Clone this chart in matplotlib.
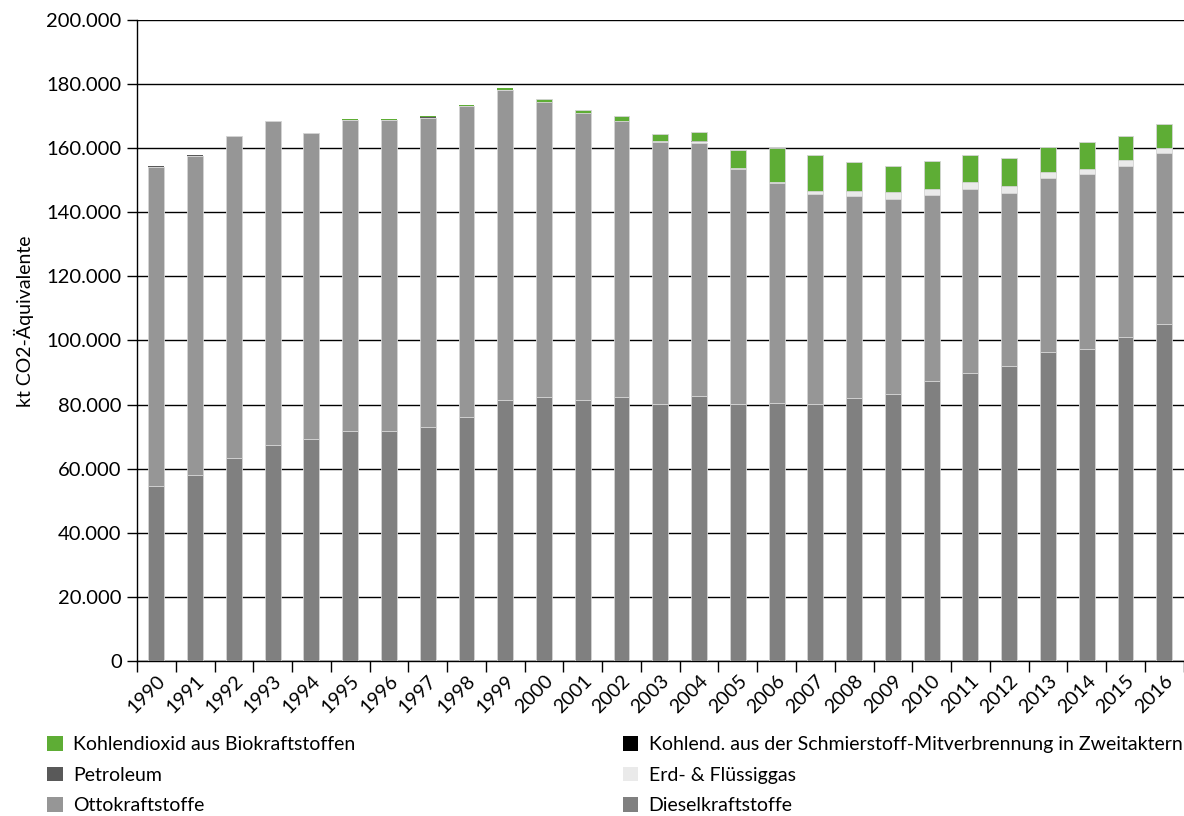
import matplotlib
matplotlib.use("Agg")
import matplotlib.pyplot as plt
from matplotlib.patches import Patch
from matplotlib.ticker import FuncFormatter, MultipleLocator
import numpy as np

plt.rcParams['font.family'] = ['Lato', 'DejaVu Sans']

years = [str(y) for y in range(1990, 2017)]

# Totals per year (kt CO2-Äquivalente, in thousands)
total = [154.4, 157.9, 163.8, 168.5, 164.7, 169.0, 169.0, 170.0, 173.5, 178.8,
         175.3, 171.9, 170.0, 164.4, 165.1, 159.4, 160.0, 157.9, 155.6, 154.4,
         156.0, 157.8, 156.8, 160.4, 161.8, 163.9, 167.6]
diesel = [54.6, 58.0, 63.3, 67.4, 69.3, 71.8, 71.8, 73.0, 76.1, 81.4,
          82.4, 81.4, 82.4, 80.2, 82.7, 80.2, 80.5, 80.2, 82.1, 83.3,
          87.4, 89.9, 92.0, 96.4, 97.3, 101.1, 105.1]
bio = [0.0, 0.0, 0.0, 0.0, 0.0, 0.3, 0.2, 0.4, 0.3, 0.6,
       0.9, 1.0, 1.4, 2.2, 3.0, 5.6, 10.4, 11.2, 9.0, 8.1,
       8.6, 8.3, 8.6, 7.9, 8.2, 7.6, 7.5]
gas = [0.0, 0.0, 0.0, 0.0, 0.0, 0.0, 0.0, 0.0, 0.0, 0.0,
       0.0, 0.0, 0.1, 0.1, 0.3, 0.3, 0.3, 0.8, 1.5, 2.0,
       1.9, 2.1, 2.0, 1.9, 1.7, 1.7, 1.6]
petroleum = [0.4, 0.3, 0.1, 0.05, 0.05, 0.02, 0.02, 0.02, 0.02, 0.02,
             0.02, 0.02, 0.02, 0.02, 0.02, 0.02, 0.02, 0.02, 0.02, 0.02,
             0.02, 0.02, 0.02, 0.02, 0.02, 0.02, 0.02]
zweitakt = [0.02, 0.02, 0.02, 0.02, 0.02, 0.02, 0.02, 0.02, 0.02, 0.02,
            0.02, 0.02, 0.02, 0.02, 0.02, 0.02, 0.02, 0.02, 0.02, 0.02,
            0.02, 0.02, 0.02, 0.02, 0.02, 0.02, 0.02]
otto = [t - d - b - g - p - z for t, d, b, g, p, z in
        zip(total, diesel, bio, gas, petroleum, zweitakt)]

series = [
    ("Dieselkraftstoffe", diesel, "#808080"),
    ("Ottokraftstoffe", otto, "#969696"),
    ("Erd- & Flüssiggas", gas, "#EAEAEA"),
    ("Petroleum", petroleum, "#595959"),
    ("Kohlend. aus der Schmierstoff-Mitverbrennung in Zweitaktern", zweitakt, "#000000"),
    ("Kohlendioxid aus Biokraftstoffen", bio, "#5EAD35"),
]

fig = plt.figure(figsize=(11.84, 8.16), dpi=100)
ax = fig.add_axes([0.1157, 0.19, 0.884, 0.7855])

x = np.arange(len(years))
bottom = np.zeros(len(years))
for name, vals, col in series:
    v = np.array(vals) * 1000
    lw = np.where(v > 600, 0.6, 0.0)
    ax.bar(x, v, width=0.41, bottom=bottom, color=col, edgecolor="#d4d4d4",
           linewidth=lw, zorder=3)
    bottom += v

ax.set_xlim(-0.5, len(years) - 0.5)
ax.set_ylim(0, 200000)
ax.yaxis.set_major_locator(MultipleLocator(20000))
ax.yaxis.set_major_formatter(FuncFormatter(
    lambda v, p: "0" if v == 0 else f"{int(v):,}".replace(",", ".")))
ax.grid(axis="y", color="black", linewidth=1.0, zorder=0)

for s in ("top", "right"):
    ax.spines[s].set_visible(False)
ax.spines["left"].set_linewidth(1.0)
ax.spines["bottom"].set_linewidth(1.0)

ax.set_xticks(x)
ax.set_xticklabels(years, rotation=45, ha="right", rotation_mode="anchor",
                   fontsize=14)
ax.tick_params(axis="x", which="major", length=0, pad=8)
ax.set_xticks(np.arange(-0.5, len(years)), minor=True)
ax.tick_params(axis="x", which="minor", length=8, width=1, direction="out")
ax.tick_params(axis="y", length=7, width=1, labelsize=14.5, pad=4)

ax.set_ylabel("kt CO2-Äquivalente", fontsize=14)
ax.yaxis.set_label_coords(-0.098, 0.53)

# Two legend columns, filled row by row
col_left = [5, 3, 1]
col_right = [4, 2, 0]
for idx, x0 in ((col_left, 0.040), (col_right, 0.526)):
    handles = [Patch(facecolor=series[i][2], edgecolor="none",
                     label=series[i][0]) for i in idx]
    fig.legend(handles=handles, loc="upper left",
               bbox_to_anchor=(x0, 0.098), ncol=1, frameon=False,
               fontsize=14, handlelength=0.78, handleheight=0.78,
               handletextpad=0.55, labelspacing=0.70,
               borderaxespad=0, borderpad=0)

fig.savefig("out.png", dpi=100)
